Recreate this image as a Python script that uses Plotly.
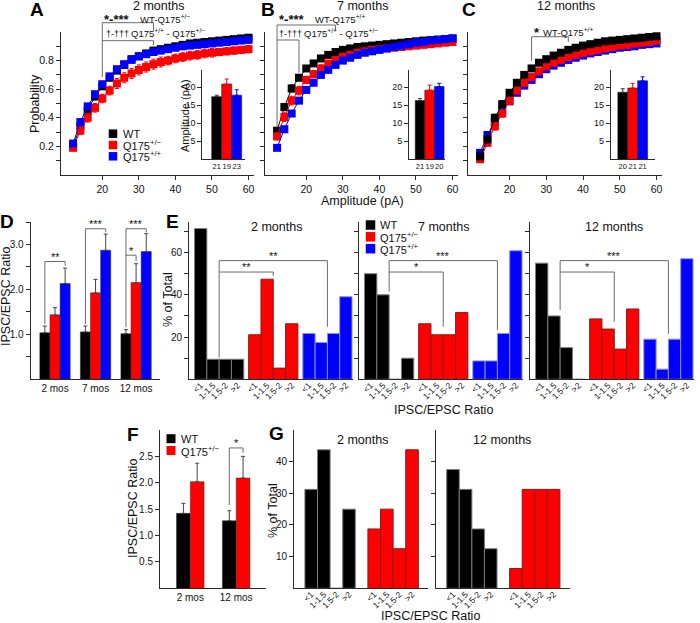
import plotly.graph_objects as go

# ---------------- data ----------------
AMP = [12, 14, 16, 18, 20, 22, 24, 26, 28, 30, 32, 34, 36, 38, 40, 42, 44, 46, 48, 50, 52, 54, 56, 58, 60]

# 2 months cumulative probability
A_WT = [0.20, 0.34, 0.45, 0.55, 0.62, 0.68, 0.73, 0.77, 0.81, 0.83, 0.85, 0.87, 0.88, 0.89, 0.90, 0.91, 0.92, 0.925, 0.93, 0.935, 0.94, 0.945, 0.95, 0.955, 0.96]
A_RED = [0.19, 0.31, 0.40, 0.47, 0.535, 0.59, 0.64, 0.68, 0.71, 0.735, 0.755, 0.775, 0.79, 0.80, 0.815, 0.825, 0.835, 0.84, 0.85, 0.855, 0.86, 0.865, 0.87, 0.875, 0.88]
A_BLUE = [0.22, 0.37, 0.48, 0.565, 0.635, 0.69, 0.74, 0.775, 0.805, 0.83, 0.845, 0.86, 0.87, 0.88, 0.89, 0.90, 0.905, 0.91, 0.915, 0.92, 0.925, 0.93, 0.935, 0.94, 0.945]
A_WT_ERR = [0.02, 0.025, 0.025, 0.025, 0.02, 0.02, 0.02, 0.02, 0.02, 0.015, 0.015, 0.015, 0.015, 0.015, 0.012, 0.012, 0.012, 0.01, 0.01, 0.01, 0.01, 0.01, 0.01, 0.01, 0.01]
A_RED_ERR = [0.02, 0.025, 0.03, 0.03, 0.03, 0.03, 0.035, 0.035, 0.035, 0.035, 0.035, 0.035, 0.035, 0.03, 0.03, 0.03, 0.03, 0.03, 0.03, 0.03, 0.025, 0.025, 0.025, 0.025, 0.025]
A_BLUE_ERR = [0.015, 0.02, 0.02, 0.02, 0.015, 0.015, 0.015, 0.015, 0.012, 0.012, 0.01, 0.01, 0.01, 0.01, 0.01, 0.01, 0.01, 0.008, 0.008, 0.008, 0.008, 0.008, 0.008, 0.008, 0.008]

# 7 months
B_WT = [0.31, 0.475, 0.605, 0.68, 0.745, 0.78, 0.815, 0.84, 0.86, 0.875, 0.885, 0.895, 0.90, 0.905, 0.91, 0.915, 0.92, 0.925, 0.93, 0.935, 0.94, 0.943, 0.947, 0.95, 0.955]
B_RED = [0.27, 0.405, 0.52, 0.59, 0.665, 0.705, 0.745, 0.78, 0.805, 0.825, 0.84, 0.855, 0.865, 0.875, 0.88, 0.885, 0.89, 0.895, 0.90, 0.905, 0.91, 0.915, 0.92, 0.925, 0.93]
B_BLUE = [0.19, 0.32, 0.43, 0.52, 0.595, 0.645, 0.70, 0.735, 0.77, 0.80, 0.82, 0.84, 0.855, 0.865, 0.875, 0.885, 0.895, 0.905, 0.915, 0.925, 0.93, 0.94, 0.945, 0.95, 0.955]
B_WT_ERR = [0.02, 0.025, 0.025, 0.02, 0.02, 0.015, 0.015, 0.015, 0.012, 0.012, 0.01, 0.01, 0.01, 0.01, 0.01, 0.008, 0.008, 0.008, 0.008, 0.008, 0.008, 0.008, 0.008, 0.008, 0.008]
B_RED_ERR = [0.025, 0.03, 0.03, 0.03, 0.025, 0.025, 0.025, 0.02, 0.02, 0.02, 0.02, 0.02, 0.02, 0.018, 0.018, 0.018, 0.015, 0.015, 0.015, 0.015, 0.015, 0.015, 0.012, 0.012, 0.012]
B_BLUE_ERR = [0.012, 0.015, 0.015, 0.015, 0.015, 0.015, 0.012, 0.012, 0.012, 0.01, 0.01, 0.01, 0.01, 0.01, 0.008, 0.008, 0.008, 0.008, 0.008, 0.008, 0.008, 0.008, 0.008, 0.008, 0.008]

# 12 months
C_WT = [0.13, 0.25, 0.40, 0.495, 0.575, 0.645, 0.70, 0.745, 0.785, 0.81, 0.835, 0.855, 0.875, 0.89, 0.905, 0.915, 0.925, 0.935, 0.94, 0.945, 0.95, 0.955, 0.96, 0.965, 0.97]
C_RED = [0.11, 0.225, 0.34, 0.43, 0.52, 0.59, 0.645, 0.685, 0.725, 0.76, 0.785, 0.805, 0.825, 0.84, 0.855, 0.865, 0.875, 0.885, 0.895, 0.905, 0.91, 0.92, 0.925, 0.93, 0.94]
C_BLUE = [0.155, 0.28, 0.37, 0.45, 0.515, 0.575, 0.625, 0.665, 0.705, 0.74, 0.765, 0.785, 0.805, 0.82, 0.835, 0.85, 0.86, 0.87, 0.88, 0.89, 0.895, 0.90, 0.91, 0.915, 0.92]
C_WT_ERR = [0.015, 0.025, 0.025, 0.025, 0.02, 0.02, 0.02, 0.015, 0.015, 0.015, 0.012, 0.012, 0.012, 0.01, 0.01, 0.01, 0.01, 0.008, 0.008, 0.008, 0.008, 0.008, 0.008, 0.008, 0.008]
C_RED_ERR = [0.015, 0.02, 0.025, 0.025, 0.025, 0.02, 0.02, 0.02, 0.02, 0.018, 0.018, 0.015, 0.015, 0.015, 0.015, 0.012, 0.012, 0.012, 0.012, 0.01, 0.01, 0.01, 0.01, 0.01, 0.01]
C_BLUE_ERR = [0.02, 0.02, 0.02, 0.015, 0.015, 0.015, 0.012, 0.012, 0.012, 0.01, 0.01, 0.01, 0.01, 0.01, 0.01, 0.008, 0.008, 0.008, 0.008, 0.008, 0.008, 0.008, 0.008, 0.008, 0.008]

# insets: mean amplitude (pA) at 2, 7, 12 months
INS_WT = [17.4, 16.3, 18.6]
INS_WT_ERR = [0.4, 0.6, 1.0]
INS_RED = [20.9, 19.2, 19.8]
INS_RED_ERR = [1.4, 1.4, 1.3]
INS_BLUE = [17.8, 20.2, 21.8]
INS_BLUE_ERR = [1.5, 0.9, 1.1]
INS_N = [["21", "19", "23"], ["21", "19", "20"], ["20", "21", "21"]]

# D: IPSC/EPSC ratio
D_GROUPS = ["2 mos", "7 mos", "12 mos"]
D_WT = [1.03, 1.05, 1.01]
D_WT_ERR = [0.15, 0.13, 0.09]
D_RED = [1.43, 1.92, 2.15]
D_RED_ERR = [0.16, 0.30, 0.42]
D_BLUE = [2.13, 2.87, 2.84]
D_BLUE_ERR = [0.34, 0.36, 0.40]

# E: % of total per ratio bin
BINS = ["<1", "1-1.5", "1.5-2", ">2"]
E2_WT = [71.4, 9.5, 9.5, 9.5]
E2_RED = [21.1, 47.4, 5.3, 26.3]
E2_BLUE = [21.7, 17.4, 21.7, 39.1]
E7_WT = [50.0, 40.0, 0.0, 10.0]
E7_RED = [26.3, 21.1, 21.1, 31.6]
E7_BLUE = [8.7, 8.7, 21.7, 60.9]
E12_WT = [55.0, 30.0, 15.0, 0.0]
E12_RED = [28.6, 23.8, 14.3, 33.3]
E12_BLUE = [19.0, 4.8, 19.0, 57.1]

# F
F_GROUPS = ["2 mos", "12 mos"]
F_WT = [1.42, 1.28]
F_WT_ERR = [0.19, 0.19]
F_RED = [2.02, 2.09]
F_RED_ERR = [0.35, 0.41]

# G
G2_WT = [31.25, 43.75, 0.0, 25.0]
G2_RED = [18.75, 25.0, 12.5, 43.75]
G12_WT = [37.5, 31.25, 18.75, 12.5]
G12_RED = [6.25, 31.25, 31.25, 31.25]

# ---------------- styling / layout helpers ----------------
W, H = 700, 623
FONT = "Liberation Sans, Arial, Helvetica, sans-serif"
AXC = "#2b2b2b"
BRC = "#6a6a6a"
BLACK, RED, BLUE = "#000000", "#ff0000", "#0000ff"
TXT = "#111111"


def fx(p):
    return p / W


def fy(p):
    return 1 - p / H


layout = dict(
    width=W, height=H, margin=dict(l=0, r=0, t=0, b=0, autoexpand=False),
    paper_bgcolor="white", plot_bgcolor="rgba(0,0,0,0)",
    showlegend=False, barmode="overlay", hovermode=False,
    font=dict(family=FONT, size=11, color=TXT),
)
fig = go.Figure()
shapes, annotations = [], []


def make_axes(n, xpx, ypx, xr, yr, xkw=None, ykw=None):
    sx = "" if n == 1 else str(n)
    base = dict(showline=True, linecolor=AXC, linewidth=1, showgrid=False, zeroline=False,
                ticks="outside", ticklen=4, tickwidth=1, tickcolor=AXC, automargin=False,
                tickfont=dict(size=10.5, color=TXT, family=FONT), fixedrange=True)
    xa = dict(base, domain=[fx(xpx[0]), fx(xpx[1])], anchor="y" + sx, range=xr)
    ya = dict(base, domain=[fy(ypx[1]), fy(ypx[0])], anchor="x" + sx, range=yr)
    xa.update(xkw or {})
    ya.update(ykw or {})
    layout["xaxis" + sx] = xa
    layout["yaxis" + sx] = ya
    return "x" + sx, "y" + sx


def text(x, y, s, size=11, xanchor="center", yanchor="middle", angle=0,
         xref="paper", yref="paper", color=TXT):
    if xref == "paper":
        x = fx(x)
    if yref == "paper":
        y = fy(y)
    annotations.append(dict(x=x, y=y, xref=xref, yref=yref, text=s, showarrow=False,
                            xanchor=xanchor, yanchor=yanchor, textangle=angle,
                            font=dict(size=size, color=color, family=FONT)))


def line(xref, yref, x0, y0, x1, y1, color=BRC, w=1):
    shapes.append(dict(type="line", xref=xref, yref=yref, x0=x0, y0=y0, x1=x1, y1=y1,
                       line=dict(color=color, width=w), layer="above"))


def bracket(xref, yref, xl, xr, ytop, yl=None, yr=None):
    line(xref, yref, xl, ytop, xr, ytop)
    if yl is not None:
        line(xref, yref, xl, ytop, xl, yl)
    if yr is not None:
        line(xref, yref, xr, ytop, xr, yr)


def square(cx, cy, s, color):
    shapes.append(dict(type="rect", xref="paper", yref="paper",
                       x0=fx(cx - s / 2), x1=fx(cx + s / 2), y0=fy(cy + s / 2), y1=fy(cy - s / 2),
                       fillcolor=color, line=dict(width=0)))


SUP_HET = "Q175<sup>+/\u2212</sup>"
SUP_HOM = "Q175<sup>+/+</sup>"

# ---------------- A, B, C: cumulative curves ----------------
TOP_YPX = (32, 175)
XR_TOP = [8.7, 61.5]
minor_prob = dict(tickvals=[0.1, 0.3, 0.5, 0.7, 0.9], ticks="outside", ticklen=4, tickcolor=AXC, showgrid=False)
top_specs = [
    (1, (61, 254), True, [(A_WT, A_WT_ERR, BLACK), (A_RED, A_RED_ERR, RED), (A_BLUE, A_BLUE_ERR, BLUE)]),
    (2, (265, 458), False, [(B_WT, B_WT_ERR, BLACK), (B_RED, B_RED_ERR, RED), (B_BLUE, B_BLUE_ERR, BLUE)]),
    (3, (468, 662), False, [(C_BLUE, C_BLUE_ERR, BLUE), (C_RED, C_RED_ERR, RED), (C_WT, C_WT_ERR, BLACK)]),
]
top_ids = []
for n, xpx, lab, series in top_specs:
    xa, ya = make_axes(n, xpx, TOP_YPX, XR_TOP, [0, 1.0],
                       xkw=dict(tickvals=[20, 30, 40, 50, 60]),
                       ykw=dict(tickvals=[0.2, 0.4, 0.6, 0.8], tickformat=".1f",
                                showticklabels=lab, minor=minor_prob))
    top_ids.append((xa, ya))
    for vals, errs, col in series:
        fig.add_trace(go.Scatter(
            x=AMP, y=vals, mode="lines+markers",
            line=dict(color=col, width=1),
            marker=dict(symbol="square", size=8, color=col),
            error_y=dict(type="data", array=errs, color=col, thickness=1, width=2),
            xaxis=xa, yaxis=ya, cliponaxis=False))


def dtop(py):
    return (TOP_YPX[1] - py) / (TOP_YPX[1] - TOP_YPX[0])


DAG = "\u2020-\u2020\u2020\u2020"
# significance brackets A
xa, ya = top_ids[0]
yd = ya + " domain"
bracket(xa, yd, 20, 34, dtop(22.7), yl=0.685, yr=dtop(30.7))
bracket(xa, yd, 20, 34, dtop(40.7), yr=dtop(45))
text(101.5, 19.5, "<b>*-***</b>", size=13, xanchor="left")
text(137.5, 19.0, "WT-" + SUP_HET, size=9.5, xanchor="left")
text(103.5, 34.0, DAG, size=9, xanchor="left")
text(129.0, 33.5, SUP_HOM + " - " + SUP_HET, size=9.5, xanchor="left")
# B
xa, ya = top_ids[1]
yd = ya + " domain"
bracket(xa, yd, 12, 28, dtop(25), yl=0.34, yr=dtop(30))
bracket(xa, yd, 12, 18, dtop(40), yr=0.715)
text(276.5, 19.5, "<b>*-***</b>", size=13, xanchor="left")
text(312.5, 19.0, "WT-" + SUP_HOM, size=9.5, xanchor="left")
text(277.0, 34.0, DAG, size=9, xanchor="left")
text(302.0, 33.5, SUP_HOM + " - " + SUP_HET, size=9.5, xanchor="left")
# C
xa, ya = top_ids[2]
yd = ya + " domain"
bracket(xa, yd, 26, 36, dtop(36.7), yl=0.80, yr=dtop(42))
text(532.0, 32.5, "<b>*</b>", size=13, xanchor="left")
text(541.0, 31.5, "WT-" + SUP_HOM, size=9.5, xanchor="left")

# titles, labels
text(158, 6.5, "2 months", size=12.5)
text(362, 6.5, "7 months", size=12.5)
text(566, 6.5, "12 months", size=12.5)
text(35, 104, "Probability", size=12.5, angle=-90)
text(362, 201, "Amplitude (pA)", size=12.5)

# legend in A
for cy, col, lab in [(133.7, BLACK, "WT"), (145.0, RED, SUP_HET), (156.3, BLUE, SUP_HOM)]:
    square(113, cy, 8.5, col)
    text(120.5, cy, lab, size=11, xanchor="left")

# ---------------- insets ----------------
INSET_YPX = (70, 159.3)
inset_specs = [(4, (202.3, 245), [-1.44, 2.83]), (5, (409, 445), [-1.15, 2.6]), (6, (610.7, 655), [-1.22, 3.25])]
ins_series = [(INS_WT, INS_WT_ERR, BLACK, "#333333"), (INS_RED, INS_RED_ERR, RED, RED), (INS_BLUE, INS_BLUE_ERR, BLUE, BLUE)]
for p, (n, xpx, xr) in enumerate(inset_specs):
    xa, ya = make_axes(n, xpx, INSET_YPX, xr, [0, 24.8],
                       xkw=dict(tickvals=[0, 1, 2], ticktext=INS_N[p], ticks="", tickangle=0,
                                tickfont=dict(size=7.5, color=TXT, family=FONT)),
                       ykw=dict(tickvals=[5, 10, 15, 20], tickfont=dict(size=9, color=TXT, family=FONT)))
    for g, (vals, errs, col, ecol) in enumerate(ins_series):
        fig.add_trace(go.Bar(x=[g], y=[vals[p]], width=1,
                             marker=dict(color=col, line=dict(color="#222222", width=0.6)),
                             error_y=dict(type="data", array=[errs[p]], arrayminus=[0], symmetric=False,
                                          color=ecol, thickness=1, width=2),
                             xaxis=xa, yaxis=ya))
text(185, 116, "Amplitude (pA)", size=11, angle=-90)

# ---------------- D ----------------
xa, ya = make_axes(7, (30.7, 160), (222, 379), [-0.6, 2.59], [0, 3.5],
                   xkw=dict(tickvals=[0, 1, 2], ticktext=D_GROUPS, ticks="", tickfont=dict(size=10, color=TXT, family=FONT)),
                   ykw=dict(tickvals=[1, 2, 3], tickformat=".1f", tickfont=dict(size=10, color=TXT, family=FONT),
                            minor=dict(tickvals=[0.5, 1.5, 2.5, 3.5], ticks="outside", ticklen=4, tickcolor=AXC, showgrid=False)))
D_BW = 0.25
for g, (vals, errs, col) in enumerate([(D_WT, D_WT_ERR, BLACK), (D_RED, D_RED_ERR, RED), (D_BLUE, D_BLUE_ERR, BLUE)]):
    fig.add_trace(go.Bar(x=[i + (g - 1) * D_BW for i in range(len(D_GROUPS))], y=vals, width=D_BW,
                         marker=dict(color=col, line=dict(color="#333333", width=0.5)),
                         error_y=dict(type="data", array=errs, arrayminus=[0] * len(errs), symmetric=False,
                                      color="#444444", thickness=1, width=2),
                         xaxis=xa, yaxis=ya))
bracket(xa, ya, -0.25, 0.25, 2.62, yl=1.22, yr=2.53)
text(0, 2.73, "**", size=11, xref=xa, yref=ya)
bracket(xa, ya, 0.75, 1.25, 3.35, yl=1.22, yr=3.27)
text(1, 3.45, "***", size=11, xref=xa, yref=ya)
bracket(xa, ya, 1.75, 2.25, 3.35, yl=1.16, yr=3.27)
text(2, 3.45, "***", size=11, xref=xa, yref=ya)
bracket(xa, ya, 1.75, 2.0, 2.76, yr=2.62)
text(1.875, 2.85, "*", size=11, xref=xa, yref=ya)
text(6, 297, "IPSC/EPSC Ratio", size=12.5, angle=-90)

# ---------------- E ----------------
E_STEP = 4.4
E_YPX = (222, 379.3)
e_ticks = [g * E_STEP + i for g in range(3) for i in range(len(BINS))]
e_specs = [
    (8, (189, 353), True, [E2_WT, E2_RED, E2_BLUE], (10.3, 24.9, 49.0), "**", "**"),
    (9, (359, 523), False, [E7_WT, E7_RED, E7_BLUE], (41.5, 23.4, 24.9), "***", "*"),
    (10, (530, 694), False, [E12_WT, E12_RED, E12_BLUE], (32.8, 21.5, 27.3), "***", "*"),
]
bar_styles = [(BLACK, "#7a7a7a"), (RED, "#8a1a1a"), (BLUE, "#8c8cff")]
for n, xpx, lab, groups, (yl, yr_out, yr_in), s_out, s_in in e_specs:
    xa, ya = make_axes(n, xpx, E_YPX, [-0.95, 12.38], [0, 74.5],
                       xkw=dict(tickvals=e_ticks, ticktext=BINS * 3, ticks="", tickangle=-45,
                                ticklabelstandoff=-3,
                                tickfont=dict(size=8.5, color=TXT, family=FONT)),
                       ykw=dict(tickvals=[20, 40, 60], showticklabels=lab, tickfont=dict(size=10, color=TXT, family=FONT),
                                minor=dict(tickvals=[10, 30, 50, 70], ticks="outside", ticklen=4, tickcolor=AXC, showgrid=False)))
    for g, vals in enumerate(groups):
        col, lc = bar_styles[g]
        fig.add_trace(go.Bar(x=[g * E_STEP + i for i in range(len(vals))], y=vals, width=1,
                             marker=dict(color=col, line=dict(color=lc, width=1)),
                             xaxis=xa, yaxis=ya))
    left = 1.5
    right_out = 2 * E_STEP + 1.5
    right_in = E_STEP + 1.5
    bracket(xa, ya, left, right_out, 56.2, yl=yl, yr=yr_out)
    bracket(xa, ya, left, right_in, 50.8, yr=yr_in)
    text((left + right_out) / 2, 58.6, s_out, size=11, xref=xa, yref=ya)
    text((left + right_in) / 2, 53.2, s_in, size=11, xref=xa, yref=ya)

text(276, 227, "2 months", size=12.5)
text(444, 227, "7 months", size=12.5)
text(614, 227, "12 months", size=12.5)
text(168, 300, "% of Total", size=12.5, angle=-90)
text(444, 410, "IPSC/EPSC Ratio", size=12.5)
for cy, col, lab in [(225.0, BLACK, "WT"), (236.8, RED, SUP_HET), (248.7, BLUE, SUP_HOM)]:
    square(370.5, cy, 9.5, col)
    text(377.5, cy, lab, size=11, xanchor="left")

# ---------------- F ----------------
xa, ya = make_axes(11, (160, 266), (430, 588.3), [-0.66, 1.65], [0, 3.0],
                   xkw=dict(tickvals=[0, 1], ticktext=F_GROUPS, ticks="", tickfont=dict(size=10, color=TXT, family=FONT)),
                   ykw=dict(tickvals=[0.5, 1.0, 1.5, 2.0, 2.5], tickformat=".1f", tickfont=dict(size=10, color=TXT, family=FONT)))
F_BW = 0.3
for g, (vals, errs, col) in enumerate([(F_WT, F_WT_ERR, BLACK), (F_RED, F_RED_ERR, RED)]):
    fig.add_trace(go.Bar(x=[i + (g - 0.5) * F_BW for i in range(len(F_GROUPS))], y=vals, width=F_BW,
                         marker=dict(color=col, line=dict(color="#333333", width=0.5)),
                         error_y=dict(type="data", array=errs, arrayminus=[0] * len(errs), symmetric=False,
                                      color="#444444", thickness=1, width=2),
                         xaxis=xa, yaxis=ya))
bracket(xa, ya, 1 - F_BW / 2, 1 + F_BW / 2, 2.66, yl=1.58, yr=2.57)
text(1, 2.76, "*", size=11, xref=xa, yref=ya)
text(133, 509, "IPSC/EPSC Ratio", size=12.5, angle=-90)
for cy, col, lab in [(438.7, BLACK, "WT"), (450.5, RED, SUP_HET)]:
    square(171, cy, 9, col)
    text(178.5, cy, lab, size=11, xanchor="left")

# ---------------- G ----------------
G_STEP = 5.0
g_ticks = [g * G_STEP + i for g in range(2) for i in range(len(BINS))]
g_specs = [(12, (294.2, 428.4), True, [G2_WT, G2_RED]), (13, (436, 570), False, [G12_WT, G12_RED])]
for n, xpx, lab, groups in g_specs:
    xa, ya = make_axes(n, xpx, (430, 588.3), [-1.35, 9.3], [0, 50],
                       xkw=dict(tickvals=g_ticks, ticktext=BINS * 2, ticks="", tickangle=-45,
                                ticklabelstandoff=-3,
                                tickfont=dict(size=8.5, color=TXT, family=FONT)),
                       ykw=dict(tickvals=[10, 20, 30, 40], showticklabels=lab, tickfont=dict(size=10, color=TXT, family=FONT)))
    for g, vals in enumerate(groups):
        col, lc = bar_styles[g]
        fig.add_trace(go.Bar(x=[g * G_STEP + i for i in range(len(vals))], y=vals, width=1,
                             marker=dict(color=col, line=dict(color=lc, width=1)),
                             xaxis=xa, yaxis=ya))
text(362, 440, "2 months", size=12.5)
text(502, 440, "12 months", size=12.5)
text(273, 511, "% of Total", size=12.5, angle=-90)
text(430, 615.5, "IPSC/EPSC Ratio", size=12.5)

# ---------------- panel letters ----------------
for lx, ly, L in [(37, 9, "A"), (267.5, 9, "B"), (469, 10, "C"), (6.5, 221, "D"),
                  (172, 221.5, "E"), (132.5, 434, "F"), (276.5, 433, "G")]:
    text(lx, ly, "<b>" + L + "</b>", size=19, color="#000000")

layout["shapes"] = shapes
layout["annotations"] = annotations
fig.update_layout(**layout)

# remove the browser's default 8px page margin so the 700x623 figure fills the window exactly
PAGE_JS = ("document.documentElement.style.margin='0';document.body.style.margin='0';"
           "document.body.style.padding='0';document.body.style.overflow='hidden';")
fig.write_html("out.html", post_script=PAGE_JS, config={"displayModeBar": False, "staticPlot": True})
